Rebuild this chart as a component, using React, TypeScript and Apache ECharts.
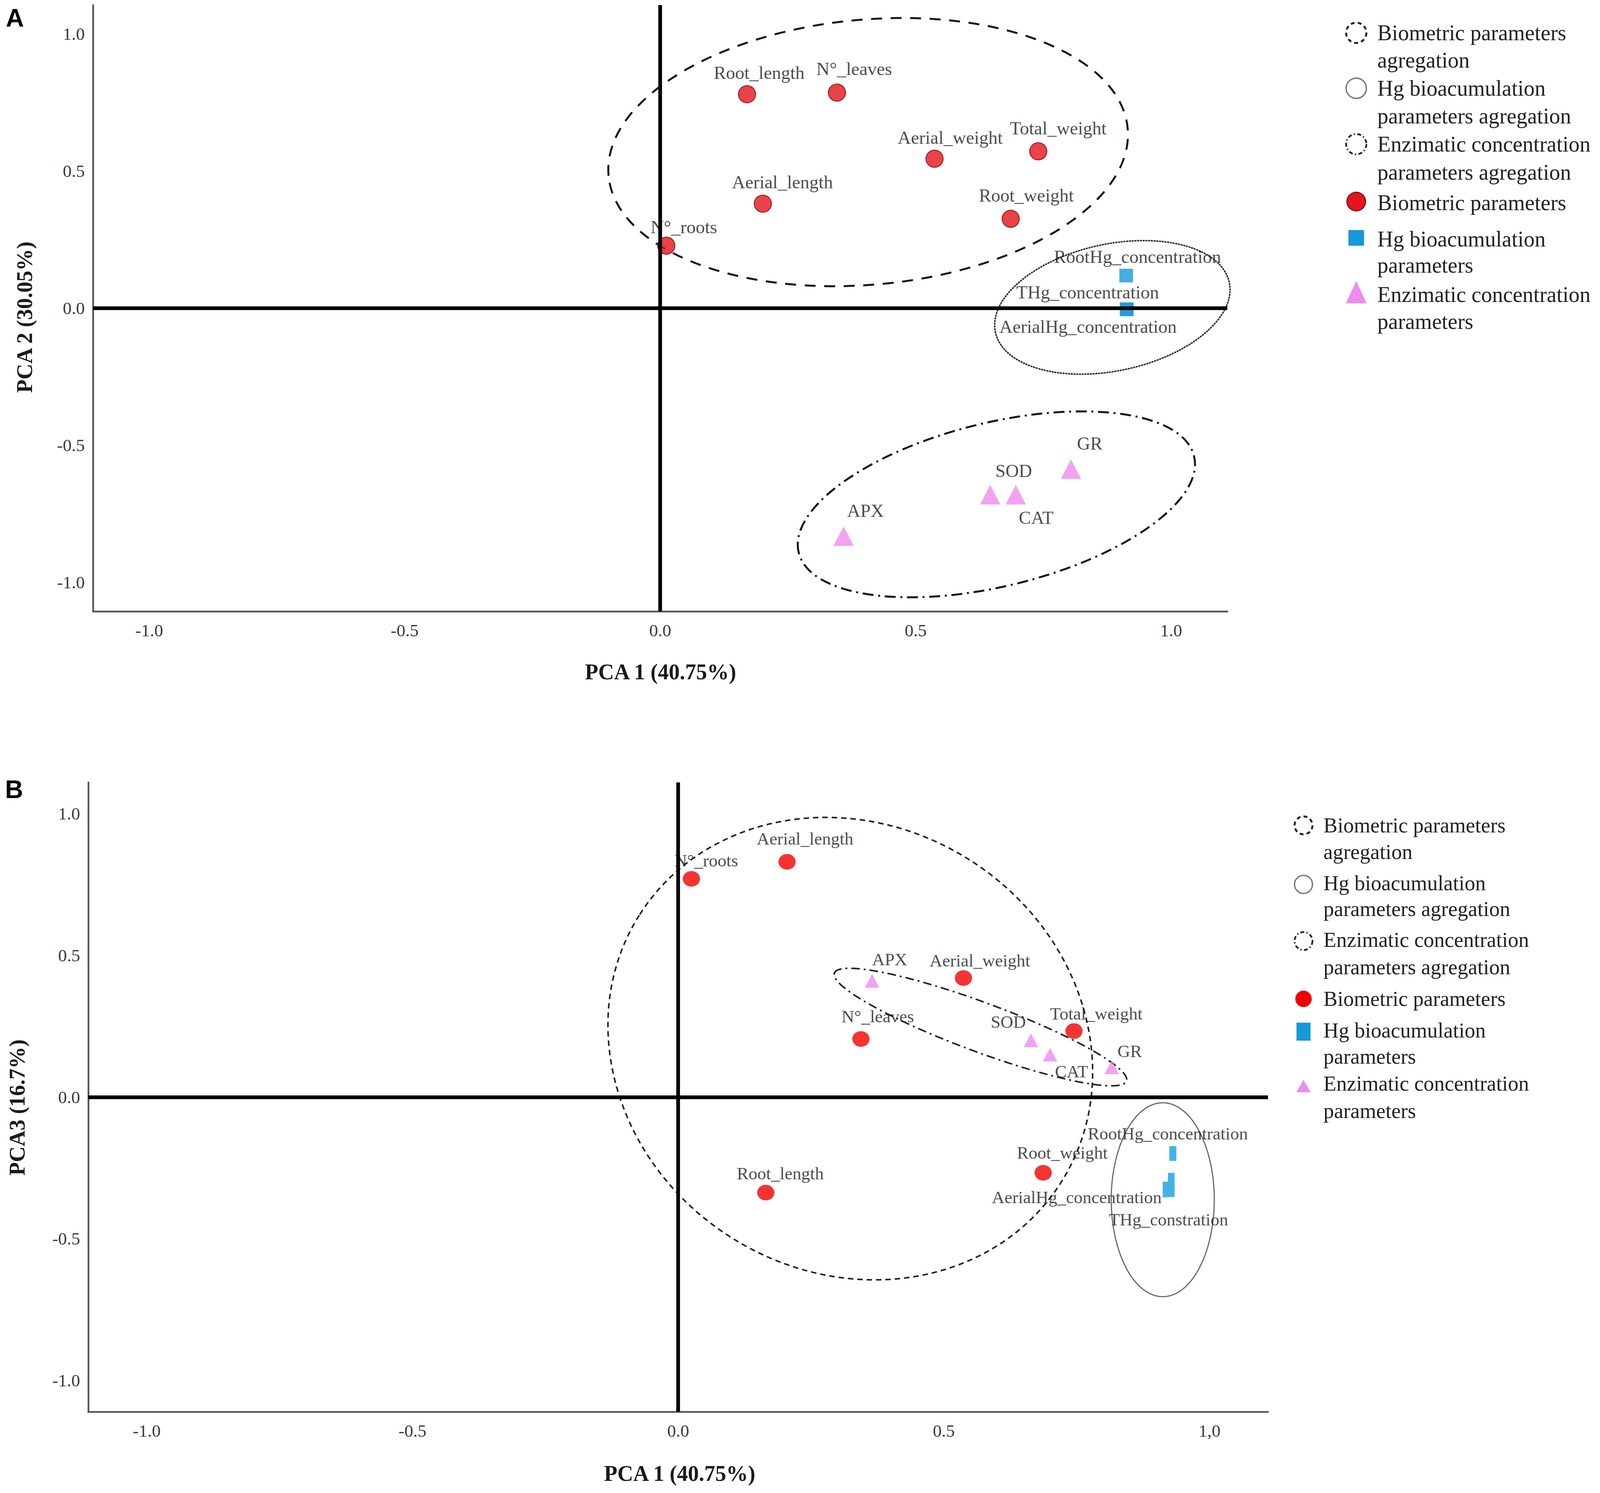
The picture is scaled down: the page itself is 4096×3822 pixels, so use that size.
import React, { useEffect, useRef } from "react";
import * as echarts from "echarts";

// ---------- Panel A : PCA 1 x PCA 2 ----------
const bioNames = ["Root_length", "N°_leaves", "Aerial_weight", "Total_weight", "Aerial_length", "Root_weight", "N°_roots"];
const bioPC1A = [0.17, 0.346, 0.537, 0.74, 0.201, 0.686, 0.012];
const bioPC2A = [0.78, 0.786, 0.545, 0.572, 0.381, 0.326, 0.228];
const hgNamesA = ["RootHg_concentration", "THg_concentration", "AerialHg_concentration"];
const hgPC1A = [0.912, 0.913, 0.913];
const hgPC2A = [0.119, -0.004, -0.004];
const enzNames = ["GR", "SOD", "CAT", "APX"];
const enzPC1A = [0.804, 0.646, 0.696, 0.359];
const enzPC2A = [-0.587, -0.68, -0.68, -0.831];

// ---------- Panel B : PCA 1 x PCA 3 ----------
const bioPC1B = [0.165, 0.344, 0.537, 0.745, 0.205, 0.687, 0.025];
const bioPC3B = [-0.337, 0.205, 0.42, 0.233, 0.83, -0.267, 0.77];
const hgNamesB = ["RootHg_concentration", "THg_constration", "AerialHg_concentration"];
const hgPC1B = [0.931, 0.917, 0.928];
const hgPC3B = [-0.199, -0.326, -0.31];
const enzPC1B = [0.816, 0.664, 0.7, 0.365];
const enzPC3B = [0.105, 0.2, 0.15, 0.41];

// aggregation ellipses: [centre x, centre y, semi-axis (x units), semi-axis (y units), rotation deg]
const ellipsesA = [
  [0.407, 0.569, 0.51, 0.483, 5.2],
  [0.885, 0.003, 0.234, 0.231, 12],
  [0.658, -0.715, 0.398, 0.298, 13.7],
];
const ellipsesB = [
  [0.324, 0.171, 0.47, 0.788, -32.5],
  [0.912, -0.362, 0.097, 0.342, 0],
  [0.569, 0.247, 0.293, 0.087, -20.3],
];

const tickValues = [-1, -0.5, 0, 0.5, 1];

const legendLines = [
  "Biometric parameters",
  "agregation",
  "Hg bioacumulation",
  "parameters agregation",
  "Enzimatic concentration",
  "parameters agregation",
  "Biometric parameters",
  "Hg bioacumulation",
  "parameters",
  "Enzimatic concentration",
  "parameters",
];

// ---------- styles ----------
const SERIF = "'Liberation Serif', 'Times New Roman', serif";
const SANS = "'Liberation Sans', Arial, sans-serif";

const offA: Record<string, number[]> = {
  Root_length: [31, -55],
  "N°_leaves": [44, -61],
  Aerial_weight: [40, -54],
  Total_weight: [51, -59],
  Aerial_length: [50, -55],
  Root_weight: [40, -60],
  "N°_roots": [45, -48],
  RootHg_concentration: [29, -48],
  THg_concentration: [-100, -44],
  AerialHg_concentration: [-99, 44],
  GR: [48, -66],
  SOD: [60, -62],
  CAT: [52, 58],
  APX: [56, -66],
};
const offB: Record<string, number[]> = {
  "N°_roots": [38, -47],
  Aerial_length: [46, -59],
  APX: [45, -55],
  Aerial_weight: [42, -45],
  "N°_leaves": [43, -58],
  SOD: [-58, -47],
  Total_weight: [57, -44],
  CAT: [55, 43],
  GR: [46, -41],
  Root_weight: [49, -51],
  Root_length: [37, -49],
  RootHg_concentration: [-13, -51],
  AerialHg_concentration: [-242, 32],
  THg_constration: [8, 77],
};
const hgSizesB: Record<string, number[]> = {
  RootHg_concentration: [18, 38],
  THg_constration: [14, 40],
  AerialHg_concentration: [17, 62],
};

const ellipseStylesA = [
  { stroke: "#151515", lineWidth: 5, lineDash: [28, 22], lineCap: "butt" },
  { stroke: "#333", lineWidth: 4, lineDash: [2, 5], lineCap: "round" },
  { stroke: "#151515", lineWidth: 5, lineDash: [28, 12, 5, 12], lineCap: "butt" },
];
const ellipseStylesB = [
  { stroke: "#222", lineWidth: 4, lineDash: [14, 10], lineCap: "butt" },
  { stroke: "#6a6a6a", lineWidth: 3, lineDash: null, lineCap: "butt" },
  { stroke: "#222", lineWidth: 4, lineDash: [22, 10, 5, 10], lineCap: "butt" },
];

function points(xs: number[], ys: number[], names: string[], off: Record<string, number[]>, sizes?: Record<string, number[]>) {
  return names.map((n, i) => {
    const d: any = { name: n, value: [xs[i], ys[i]], label: { offset: off[n] } };
    if (sizes && sizes[n]) d.symbolSize = sizes[n];
    return d;
  });
}

function scatter(grid: number, data: any[], symbol: string, size: any, itemStyle: any, fontSize: number) {
  return {
    type: "scatter",
    xAxisIndex: grid,
    yAxisIndex: grid,
    z: 3,
    symbol,
    symbolSize: size,
    itemStyle,
    data,
    label: {
      show: true,
      position: "inside",
      formatter: "{b}",
      color: "#1a1a1a",
      fontFamily: SERIF,
      fontSize,
    },
    emphasis: { disabled: true },
  };
}

function ellipseSeries(grid: number, data: number[][], styles: any[]) {
  return {
    type: "custom",
    xAxisIndex: grid,
    yAxisIndex: grid,
    z: 2,
    silent: true,
    clip: false,
    encode: { x: 0, y: 1 },
    data,
    renderItem: (params: any, api: any) => {
      const c = api.coord([api.value(0), api.value(1)]);
      const rx = api.size([api.value(2), 0])[0];
      const ry = api.size([0, api.value(3)])[1];
      const st = styles[params.dataIndex];
      return {
        type: "ellipse",
        x: c[0],
        y: c[1],
        rotation: (api.value(4) * Math.PI) / 180,
        shape: { cx: 0, cy: 0, rx, ry },
        style: {
          fill: "none",
          stroke: st.stroke,
          lineWidth: st.lineWidth,
          lineDash: st.lineDash,
          lineCap: st.lineCap,
        },
      };
    },
  };
}

function zeroLines(grid: number) {
  return {
    type: "scatter",
    xAxisIndex: grid,
    yAxisIndex: grid,
    z: 1,
    data: [],
    silent: true,
    markLine: {
      silent: true,
      symbol: ["none", "none"],
      label: { show: false },
      lineStyle: { color: "#000", width: 9.5, type: "solid" },
      emphasis: { disabled: true },
      data: [{ xAxis: 0 }, { yAxis: 0 }],
    },
  };
}

function axis(grid: number, min: number, max: number, margin: number, fmt: (v: number) => string) {
  return {
    type: "value",
    gridIndex: grid,
    min,
    max,
    axisLine: { show: true, onZero: false, lineStyle: { color: "#555", width: 4.5 } },
    axisTick: { show: false },
    splitLine: { show: false },
    axisLabel: {
      customValues: tickValues,
      formatter: fmt,
      margin,
      fontSize: 45,
      color: "#3a3a3a",
      fontFamily: SERIF,
    },
  };
}

function legend(symX: number, textX: number, rowsY: number[], symY: number[], fontSize: number, r: number, sq: number[], tri: number[], redBorder: boolean) {
  const els: any[] = [];
  legendLines.forEach((t, i) => {
    els.push({
      type: "text",
      x: textX,
      y: rowsY[i],
      silent: true,
      style: { text: t, fontSize, fontFamily: SERIF, fill: "#222", align: "left", verticalAlign: "middle" },
    });
  });
  els.push({ type: "circle", silent: true, shape: { cx: symX, cy: symY[0], r }, style: { fill: "none", stroke: "#222", lineWidth: 5, lineDash: [10, 8] } });
  els.push({ type: "circle", silent: true, shape: { cx: symX, cy: symY[1], r }, style: { fill: "none", stroke: "#777", lineWidth: 3.5 } });
  els.push({ type: "circle", silent: true, shape: { cx: symX, cy: symY[2], r }, style: { fill: "none", stroke: "#222", lineWidth: 4.5, lineDash: [10, 6, 3, 6] } });
  els.push({
    type: "circle",
    silent: true,
    shape: { cx: symX, cy: symY[3], r: r - 2 },
    style: { fill: redBorder ? "#e3141b" : "#f20000", stroke: redBorder ? "#8a0000" : "none", lineWidth: 2.5 },
  });
  els.push({ type: "rect", silent: true, shape: { x: symX - sq[0] / 2, y: symY[4] - sq[1] / 2, width: sq[0], height: sq[1] }, style: { fill: "#1798d8" } });
  els.push({
    type: "polygon",
    silent: true,
    shape: {
      points: [
        [symX, symY[5] - tri[1] / 2],
        [symX - tri[0] / 2, symY[5] + tri[1] / 2],
        [symX + tri[0] / 2, symY[5] + tri[1] / 2],
      ],
    },
    style: { fill: "#ef8bef" },
  });
  return els;
}

const fmtA = (v: number) => v.toFixed(1);
const fmtBx = (v: number) => (v === 1 ? "1,0" : v.toFixed(1));

const titleStyle = { fontSize: 56, fontWeight: "bold", fontFamily: SERIF, fill: "#1a1a1a", align: "center", verticalAlign: "middle" };

const option: any = {
  animation: false,
  backgroundColor: "#ffffff",
  grid: [
    { left: 238, top: 13, width: 2904, height: 1552 },
    { left: 226, top: 2003, width: 3020, height: 1611 },
  ],
  xAxis: [axis(0, -1.11, 1.11, 26, fmtA), axis(1, -1.11, 1.11, 26, fmtBx)],
  yAxis: [axis(0, -1.105, 1.105, 21, fmtA), axis(1, -1.11, 1.11, 21, fmtA)],
  series: [
    zeroLines(0),
    ellipseSeries(0, ellipsesA, ellipseStylesA),
    scatter(0, points(bioPC1A, bioPC2A, bioNames, offA), "circle", 44, { color: "#e3141b", borderColor: "#8a0000", borderWidth: 2.5 }, 47),
    scatter(0, points(hgPC1A, hgPC2A, hgNamesA, offA), "rect", 35, { color: "#1798d8" }, 47),
    scatter(0, points(enzPC1A, enzPC2A, enzNames, offA), "triangle", [52, 50], { color: "#ef8bef" }, 47),
    zeroLines(1),
    ellipseSeries(1, ellipsesB, ellipseStylesB),
    scatter(1, points(bioPC1B, bioPC3B, bioNames, offB), "circle", [44, 40], { color: "#f20000" }, 45),
    scatter(1, points(hgPC1B, hgPC3B, hgNamesB, offB, hgSizesB), "rect", [17, 40], { color: "#14a0e0" }, 45),
    scatter(1, points(enzPC1B, enzPC3B, enzNames, offB), "triangle", [37, 35], { color: "#ef8bef" }, 45),
  ],
  graphic: [
    { type: "text", x: 38, y: 46, silent: true, style: { text: "A", fontSize: 64, fontWeight: "bold", fontFamily: SANS, fill: "#000", align: "center", verticalAlign: "middle" } },
    { type: "text", x: 36, y: 2021, silent: true, style: { text: "B", fontSize: 64, fontWeight: "bold", fontFamily: SANS, fill: "#000", align: "center", verticalAlign: "middle" } },
    { type: "text", x: 1691, y: 1720, silent: true, style: { ...titleStyle, text: "PCA 1 (40.75%)" } },
    { type: "text", x: 63, y: 812, rotation: Math.PI / 2, silent: true, style: { ...titleStyle, text: "PCA 2 (30.05%)" } },
    { type: "text", x: 1740, y: 3772, silent: true, style: { ...titleStyle, text: "PCA 1 (40.75%)" } },
    { type: "text", x: 44, y: 2835, rotation: Math.PI / 2, silent: true, style: { ...titleStyle, text: "PCA3 (16.7%)" } },
    ...legend(
      3472,
      3526,
      [84, 154, 226, 297, 369, 441, 519, 612, 679, 754, 823],
      [84, 226, 369, 516, 609, 748],
      56,
      26,
      [40, 40],
      [53, 57],
      true
    ),
    ...legend(
      3337,
      3388,
      [2113, 2181, 2261, 2327, 2406, 2476, 2557, 2638, 2705, 2774, 2844],
      [2113, 2264, 2409, 2557, 2641, 2780],
      54,
      23,
      [36, 46],
      [36, 32],
      false
    ),
  ],
};

export default function App() {
  const ref = useRef<HTMLDivElement>(null);
  useEffect(() => {
    document.body.style.margin = "0";
    const chart = echarts.init(ref.current as HTMLDivElement, null, { renderer: "svg" });
    chart.setOption(option);
    return () => chart.dispose();
  }, []);
  return <div ref={ref} style={{ width: 4096, height: 3822 }} />;
}
